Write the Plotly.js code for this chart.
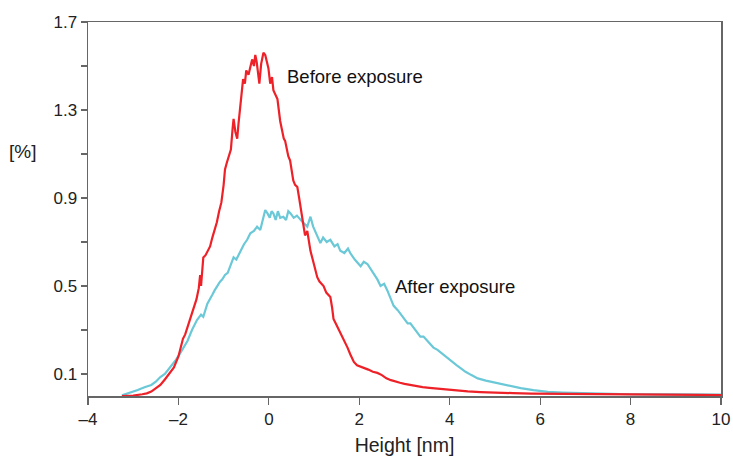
<!DOCTYPE html>
<html>
<head>
<meta charset="utf-8">
<script src="https://cdn.plot.ly/plotly-3.0.1.min.js"></script>
<style>html,body{margin:0;padding:0;background:#fff;}#chart{width:733px;height:456px;}</style>
</head>
<body>
<div id="chart"></div>
<script>
// Before exposure (red)
var beforeX = [-3.25,-3.0,-2.8,-2.7,-2.6,-2.5,-2.4,-2.3,-2.2,-2.1,-2.0,-1.95,-1.9,-1.85,-1.8,-1.75,-1.7,-1.65,-1.6,-1.55,-1.52,-1.5,-1.47,-1.45,-1.4,-1.35,-1.3,-1.25,-1.2,-1.15,-1.1,-1.05,-1.0,-0.97,-0.93,-0.88,-0.84,-0.8,-0.78,-0.74,-0.7,-0.67,-0.63,-0.6,-0.57,-0.53,-0.5,-0.45,-0.4,-0.37,-0.33,-0.3,-0.27,-0.24,-0.21,-0.17,-0.12,-0.08,-0.04,-0.01,0.03,0.07,0.1,0.15,0.19,0.22,0.25,0.3,0.33,0.36,0.4,0.43,0.47,0.5,0.54,0.58,0.63,0.67,0.7,0.74,0.77,0.8,0.85,0.88,0.92,0.97,1.02,1.07,1.12,1.17,1.21,1.27,1.32,1.36,1.4,1.43,1.48,1.53,1.58,1.62,1.67,1.74,1.8,1.85,1.88,1.95,2.02,2.1,2.2,2.3,2.4,2.5,2.6,2.7,2.8,2.9,3.0,3.13,3.25,3.4,3.55,3.7,3.85,4.0,4.2,4.4,4.68,5.0,5.4,5.8,6.2,6.6,7.0,7.5,8.0,8.5,9.0,9.5,10.0];
var beforeY = [0.000,0.002,0.008,0.012,0.020,0.035,0.050,0.075,0.100,0.130,0.180,0.215,0.26,0.28,0.31,0.34,0.37,0.40,0.44,0.49,0.55,0.50,0.60,0.63,0.64,0.66,0.68,0.72,0.75,0.79,0.84,0.88,0.96,1.03,1.06,1.10,1.12,1.22,1.26,1.20,1.17,1.24,1.31,1.36,1.44,1.42,1.48,1.46,1.51,1.53,1.50,1.55,1.52,1.47,1.42,1.51,1.56,1.55,1.52,1.49,1.42,1.45,1.39,1.37,1.35,1.30,1.25,1.20,1.17,1.16,1.12,1.09,1.07,1.02,0.98,0.96,0.95,0.90,0.86,0.80,0.75,0.73,0.75,0.70,0.66,0.62,0.58,0.54,0.52,0.51,0.50,0.47,0.46,0.45,0.40,0.35,0.33,0.31,0.29,0.27,0.25,0.22,0.19,0.17,0.155,0.14,0.135,0.13,0.12,0.11,0.105,0.095,0.08,0.072,0.065,0.06,0.055,0.05,0.045,0.04,0.037,0.034,0.03,0.027,0.024,0.021,0.018,0.015,0.013,0.011,0.01,0.009,0.008,0.007,0.006,0.006,0.005,0.005,0.004];
// After exposure (cyan)
var afterX = [-3.25,-3.1,-2.9,-2.75,-2.6,-2.5,-2.4,-2.3,-2.18,-2.07,-1.96,-1.89,-1.8,-1.7,-1.59,-1.5,-1.45,-1.36,-1.3,-1.25,-1.2,-1.14,-1.08,-1.03,-0.97,-0.91,-0.85,-0.78,-0.72,-0.63,-0.55,-0.48,-0.41,-0.33,-0.26,-0.19,-0.14,-0.08,-0.03,0.02,0.06,0.10,0.15,0.2,0.25,0.32,0.38,0.43,0.48,0.55,0.62,0.70,0.75,0.85,0.92,0.98,1.05,1.14,1.2,1.28,1.36,1.45,1.52,1.58,1.67,1.75,1.80,1.9,2.03,2.1,2.18,2.3,2.40,2.47,2.55,2.62,2.7,2.76,2.85,2.95,3.07,3.13,3.2,3.35,3.42,3.5,3.64,3.73,3.85,3.95,4.05,4.15,4.24,4.35,4.48,4.62,4.8,5.06,5.3,5.57,5.85,6.17,6.5,6.9,7.5,8.0,9.0,10.0];
var afterY = [0.003,0.012,0.027,0.04,0.05,0.065,0.086,0.10,0.13,0.16,0.195,0.22,0.25,0.30,0.345,0.37,0.36,0.42,0.44,0.46,0.48,0.50,0.52,0.53,0.55,0.56,0.59,0.63,0.62,0.66,0.69,0.71,0.74,0.75,0.77,0.755,0.80,0.845,0.83,0.81,0.84,0.83,0.80,0.84,0.81,0.815,0.80,0.84,0.83,0.81,0.82,0.80,0.79,0.77,0.815,0.77,0.74,0.695,0.72,0.70,0.71,0.68,0.69,0.66,0.65,0.67,0.65,0.62,0.59,0.61,0.60,0.56,0.53,0.50,0.51,0.48,0.44,0.41,0.39,0.36,0.33,0.33,0.31,0.27,0.27,0.25,0.22,0.21,0.19,0.17,0.155,0.14,0.127,0.11,0.095,0.08,0.07,0.058,0.046,0.036,0.027,0.019,0.016,0.014,0.011,0.008,0.007,0.006];

var xTickVals = [-4,-2,0,2,4,6,8,10];
var xTickText = ['\u20134','\u20132','0','2','4','6','8','10'];
var yTickVals = [0.1,0.3,0.5,0.7,0.9,1.1,1.3,1.5,1.7];
var yTickText = ['0.1','','0.5','','0.9','','1.3','','1.7'];

var font = 'Liberation Sans, Arial, sans-serif';
var traces = [
  {x: afterX, y: afterY, type: 'scatter', mode: 'lines', name: 'After exposure',
   line: {color: '#6AC8D7', width: 2.2}},
  {x: beforeX, y: beforeY, type: 'scatter', mode: 'lines', name: 'Before exposure',
   line: {color: '#EE2128', width: 2.2}}
];
var axisCommon = {showline: true, mirror: true, linecolor: '#666', linewidth: 1.5,
  ticks: 'outside', tickcolor: '#666', tickwidth: 1.2, showgrid: false, zeroline: false,
  tickfont: {family: font, size: 17, color: '#222'}};
var layout = {
  width: 733, height: 456,
  margin: {l: 88, r: 12, t: 22, b: 60},
  paper_bgcolor: '#fff', plot_bgcolor: '#fff',
  showlegend: false,
  font: {family: font, color: '#222'},
  xaxis: Object.assign({}, axisCommon, {range: [-4, 10], tickmode: 'array',
    tickvals: xTickVals, ticktext: xTickText, ticklen: 7,
    title: {text: 'Height [nm]', font: {family: font, size: 19.5, color: '#222'}, standoff: 10}}),
  yaxis: Object.assign({}, axisCommon, {range: [0, 1.7], tickmode: 'array',
    tickvals: yTickVals, ticktext: yTickText, ticklen: 6}),
  annotations: [
    {text: 'Before exposure', x: 0.36, y: 1.452, xref: 'x', yref: 'y', showarrow: false,
     xanchor: 'left', yanchor: 'middle', font: {family: font, size: 18.5, color: '#111'}},
    {text: 'After exposure', x: 2.74, y: 0.5, xref: 'x', yref: 'y', showarrow: false,
     xanchor: 'left', yanchor: 'middle', font: {family: font, size: 18.5, color: '#111'}},
    {text: '[%]', x: -0.104, y: 1.11, xref: 'paper', yref: 'y', showarrow: false,
     xanchor: 'center', yanchor: 'middle', font: {family: font, size: 19, color: '#222'}}
  ]
};
Plotly.newPlot('chart', traces, layout, {displayModeBar: false, staticPlot: true});
</script>
</body>
</html>
